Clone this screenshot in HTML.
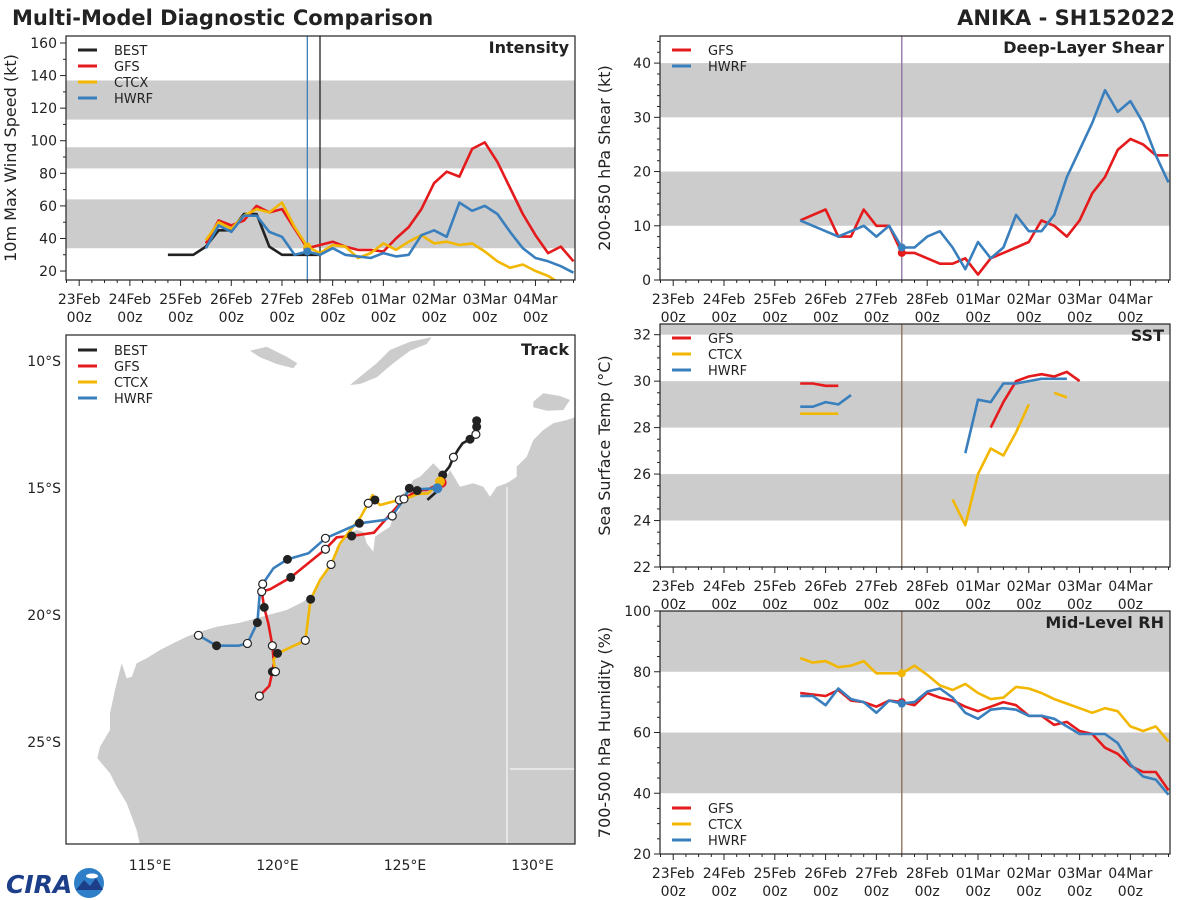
<!DOCTYPE html>
<html><head><meta charset="utf-8">
<style>
html,body{margin:0;padding:0;background:#fff;}
svg{display:block;font-family:"DejaVu Sans","Liberation Sans",sans-serif;}
</style></head>
<body>
<svg id="fig" width="1200" height="900" viewBox="0 0 1200 900" xmlns="http://www.w3.org/2000/svg">
<text x="12" y="25" font-size="21" font-weight="bold" fill="#222">Multi-Model Diagnostic Comparison</text>
<text x="1175" y="25" font-size="21" font-weight="bold" fill="#222" text-anchor="end">ANIKA - SH152022</text>
<g>
<text x="6" y="893" font-size="25" font-weight="bold" fill="#1d3f8a" font-style="italic">CIRA</text>
<circle cx="89" cy="883" r="15" fill="#2f7fc8"/>
<path d="M76 890 L84 880 L90 886 L96 878 L103 890 Z" fill="#1d3f8a"/>
<ellipse cx="92" cy="876" rx="6" ry="2.5" fill="#fff"/>
</g>
</svg>
<script>
// ---------- DATA ----------
const dayLabels = ["23Feb","24Feb","25Feb","26Feb","27Feb","28Feb","01Mar","02Mar","03Mar","04Mar"];
const bestHours = [42,48,54,60,66,72,78,84,90,96,102,108,114];
const bestVmax = [30,30,30,35,45,45,55,55,35,30,30,30,30];
const modelHours = [60,66,72,78,84,90,96,102,108,114,120,126,132,138,144,150,156,162,168,174,180,186,192,198,204,210,216,222,228,234];
const gfsVmax = [37,51,48,51,60,56,58,46,34,36,38,35,33,33,32,40,47,58,74,81,78,95,99,87,71,55,42,31,35,26];
const ctcxVmax = [39,50,46,54,58,56,62,47,35,31,36,35,28,31,37,33,38,42,37,38,36,37,32,26,22,24,20,17,12,null];
const hwrfVmax = [34,48,44,54,54,44,41,30,32,30,34,30,29,28,31,29,30,42,45,41,62,57,60,55,44,34,28,26,23,19];
const gfsShear = [11,12,13,8,8,13,10,10,5,5,4,3,3,4,1,4,5,6,7,11,10,8,11,16,19,24,26,25,23,23];
const hwrfShear = [11,10,9,8,9,10,8,10,6,6,8,9,6,2,7,4,6,12,9,9,12,19,24,29,35,31,33,29,23,18];
const gfsSst = [29.9,29.9,29.8,29.8,null,null,null,null,null,null,null,null,null,null,null,28.0,29.1,30.0,30.2,30.3,30.2,30.4,30.0,null,null,null,null,null,null,null];
const ctcxSst = [28.6,28.6,28.6,28.6,null,null,null,null,null,null,null,null,24.9,23.8,26.0,27.1,26.8,27.8,29.0,null,29.5,29.3,null,null,null,null,null,null,null,null];
const hwrfSst = [28.9,28.9,29.1,29.0,29.4,null,null,null,null,null,null,null,null,26.9,29.2,29.1,29.9,29.9,30.0,30.1,30.1,30.1,null,null,null,null,null,null,null,null];
const gfsRh = [73,72.5,72,74,70.5,70,68.5,70.5,70,69,73,71.5,70.5,68.5,67,68.5,70,69,65.5,65.5,62.5,63.5,60.5,59.5,55,53,49,47,47,41];
const ctcxRh = [84.5,83,83.5,81.5,82,83.5,79.5,79.5,79.5,82,79,75.5,74,76,73,71,71.5,75,74.5,73,71,69.5,68,66.5,68,67,62,60.5,62,57];
const hwrfRh = [72,72,69,74.5,71,70,66.5,70.5,69.5,70,73.5,74.5,71.5,66.5,64.5,67.5,68,67.5,65.5,65.5,64.5,62,59.5,59.5,59.5,56.5,49.5,45.5,44.5,39.5];
const bestLon = [125.88,126.24,126.48,126.74,126.90,127.09,127.26,127.55,127.78,127.81,127.81];
const bestLat = [-15.47,-15.14,-14.49,-14.16,-13.79,-13.48,-13.24,-13.08,-12.89,-12.59,-12.35];
const bestMk = ["","","f","","o","","","f","o","f","f"];
const gfsLon = [126.44,125.85,125.48,125.26,124.96,123.78,122.91,122.32,121.88,120.52,119.71,119.38,119.48,119.64,119.80,119.86,119.80,119.68,119.29];
const gfsLat = [-14.79,-15.08,-15.10,-15.24,-15.43,-16.76,-16.89,-16.94,-17.41,-18.52,-18.99,-19.08,-19.70,-20.33,-21.21,-21.90,-22.23,-22.79,-23.19];
const gfsMk = ["s","","f","","","","f","","o","f","","o","f","","o","","f","","o"];
const hwrfLon = [126.27,125.48,125.17,124.96,124.50,124.18,123.21,122.97,121.88,121.21,120.39,119.84,119.42,119.31,119.21,118.82,118.47,117.61,116.90];
const hwrfLat = [-15.01,-15.05,-15.01,-15.43,-16.10,-16.26,-16.39,-16.50,-16.98,-17.57,-17.81,-18.16,-18.78,-19.08,-20.30,-21.12,-21.21,-21.21,-20.80];
const hwrfMk = ["s","","f","o","o","","f","","o","","f","","o","","f","o","","f","o"];
const ctcxLon = [126.37,126.11,125.91,125.48,125.26,124.78,124.02,123.82,123.73,123.56,123.23,122.97,122.45,122.10,121.67,121.30,121.09,120.00,119.84,119.92];
const ctcxLat = [-14.75,-15.01,-15.21,-15.24,-15.34,-15.47,-15.67,-15.47,-15.28,-15.60,-16.19,-16.52,-17.18,-18.01,-18.62,-19.38,-21.00,-21.51,-21.77,-22.23];
const ctcxMk = ["s","","","","","o","","f","","o","","","","o","","f","o","f","","o"];

// ---------- HELPERS ----------
const NS="http://www.w3.org/2000/svg";
const svg=document.getElementById('fig');
function mk(tag,attrs,parent){const e=document.createElementNS(NS,tag);for(const k in attrs)e.setAttribute(k,attrs[k]);(parent||svg).appendChild(e);return e;}
const C={BEST:"#222222",GFS:"#e41a1c",CTCX:"#f2b701",HWRF:"#3a7fbd"};
const DMIN=-0.26,DMAX=9.78;

function panel(p){
  const g=mk('g',{});
  
  
  const xs=h=>p.x0+(h/24-DMIN)/(DMAX-DMIN)*(p.x1-p.x0);
  const ys=v=>p.y1-(v-p.ymin)/(p.ymax-p.ymin)*(p.y1-p.y0);
  const cid='clip-'+p.id;
  const cp=mk('clipPath',{id:cid},g);
  mk('rect',{x:p.x0,y:p.y0,width:p.x1-p.x0,height:p.y1-p.y0},cp);
  p.bands.forEach(b=>{
    const r=mk('rect',{x:p.x0,y:ys(Math.min(b[1],p.ymax)),width:p.x1-p.x0,height:ys(b[0])-ys(Math.min(b[1],p.ymax)),fill:"#cccccc"},g);
    
    
  });
  // y ticks
  for(let v=p.ymin0;v<=p.ymax+1e-6;v+=p.yminor){
    const major=Math.abs((v-p.ymin0)/p.ymajor-Math.round((v-p.ymin0)/p.ymajor))<1e-6;
    const t=mk('line',{x1:p.x0,x2:p.x0-(major?6:3),y1:ys(v),y2:ys(v),stroke:"#222","stroke-width":1},g);
    
    
    if(major){
      const tx=mk('text',{x:p.x0-9,y:ys(v)+5,"font-size":14,fill:"#222","text-anchor":"end"},g);
      tx.textContent=String(Math.round(v));
      
      
    }
  }
  // x ticks
  for(let h=-6;h<=240;h+=6){
    const x=xs(h); if(x<p.x0-0.5||x>p.x1+0.5) continue;
    const major=h%24===0;
    const t=mk('line',{x1:x,x2:x,y1:p.y1,y2:p.y1+(major?6:3),stroke:"#222","stroke-width":1},g);
    
    
  }
  dayLabels.forEach((lab,i)=>{
    const x=xs(i*24);
    const t1=mk('text',{x:x,y:p.y1+24,"font-size":14,fill:"#222","text-anchor":"middle"},g);
    t1.textContent=lab;
    
    
    const t2=mk('text',{x:x,y:p.y1+42,"font-size":14,fill:"#222","text-anchor":"middle"},g);
    t2.textContent="00z";
    
    
  });
  // vlines
  p.vlines.forEach(v=>{
    const l=mk('line',{x1:xs(v[0]),x2:xs(v[0]),y1:p.y0,y2:p.y1,stroke:v[1],"stroke-width":1.3},g);
    
    
  });
  // series
  const sg=mk('g',{"clip-path":"url(#"+cid+")"},g);
  p.series.forEach(s=>{
    let d="",pen=false;
    s.vals.forEach((v,i)=>{
      if(v===null){pen=false;return;}
      d+=(pen?"L":"M")+xs(s.hours[i]).toFixed(1)+" "+ys(v).toFixed(1);pen=true;
    });
    const pa=mk('path',{d:d,fill:"none",stroke:C[s.name],"stroke-width":2.6,"stroke-linejoin":"round"},sg);
    
    
    if(p.dotHour!==undefined && s.name!=="BEST"){
      const i=s.hours.indexOf(p.dotHour);
      if(i>=0 && s.vals[i]!==null){
        const c=mk('circle',{cx:xs(p.dotHour),cy:ys(s.vals[i]),r:4,fill:C[s.name]},sg);
        
        
      }
    }
  });
  const fr=mk('rect',{x:p.x0,y:p.y0,width:p.x1-p.x0,height:p.y1-p.y0,fill:"none",stroke:"#222","stroke-width":1.2},g);
  
  
  const tt=mk('text',{x:p.x1-6,y:p.y0+17,"font-size":16,"font-weight":"bold",fill:"#222","text-anchor":"end"},g);
  tt.textContent=p.title;
  
  
  const cy=(p.y0+p.y1)/2, lx=p.x0-50;
  const yl=mk('text',{x:lx,y:cy,"font-size":16,fill:"#222","text-anchor":"middle",transform:"rotate(-90 "+lx+" "+cy+")"},g);
  yl.textContent=p.ylabel;
  
  
  legend(g,p.x0,p.legendY,p.series.map(s=>s.name));
}
function legend(g,x0,y,names){
  const lg=mk('g',{},g);
  
  
  names.forEach((n,i)=>{
    const yy=y+i*16;
    const l=mk('line',{x1:x0+12,x2:x0+31,y1:yy,y2:yy,stroke:C[n],"stroke-width":3},lg);
    
    
    const t=mk('text',{x:x0+48,y:yy+5,"font-size":13,fill:"#222"},lg);
    t.textContent=n;
    
    
  });
}

panel({id:"intensity",x0:66,x1:575,y0:36,y1:280,ymin:14.5,ymax:164.3,ymin0:20,ymajor:20,yminor:10,
  bands:[[34,64],[83,96],[113,137]],title:"Intensity",ylabel:"10m Max Wind Speed (kt)",legendY:50,
  vlines:[[108,"#3a7fbd"],[114,"#222"]],dotHour:108,
  series:[{name:"BEST",hours:bestHours,vals:bestVmax},{name:"GFS",hours:modelHours,vals:gfsVmax},{name:"CTCX",hours:modelHours,vals:ctcxVmax},{name:"HWRF",hours:modelHours,vals:hwrfVmax}]});
panel({id:"shear",x0:660,x1:1170,y0:36,y1:280,ymin:0,ymax:45,ymin0:0,ymajor:10,yminor:2,
  bands:[[10,20],[30,40]],title:"Deep-Layer Shear",ylabel:"200-850 hPa Shear (kt)",legendY:50,
  vlines:[[108,"#8a6fa0"]],dotHour:108,
  series:[{name:"GFS",hours:modelHours,vals:gfsShear},{name:"HWRF",hours:modelHours,vals:hwrfShear}]});
panel({id:"sst",x0:660,x1:1170,y0:324,y1:567,ymin:22,ymax:32.46,ymin0:22,ymajor:2,yminor:0.5,
  bands:[[24,26],[28,30],[32,33]],title:"SST",ylabel:"Sea Surface Temp (°C)",legendY:338,
  vlines:[[108,"#8a6a55"]],
  series:[{name:"GFS",hours:modelHours,vals:gfsSst},{name:"CTCX",hours:modelHours,vals:ctcxSst},{name:"HWRF",hours:modelHours,vals:hwrfSst}]});
panel({id:"rh",x0:660,x1:1170,y0:611,y1:854,ymin:20,ymax:100,ymin0:20,ymajor:20,yminor:5,
  bands:[[40,60],[80,100]],title:"Mid-Level RH",ylabel:"700-500 hPa Humidity (%)",legendY:808,
  vlines:[[108,"#8a6a55"]],dotHour:108,
  series:[{name:"GFS",hours:modelHours,vals:gfsRh},{name:"CTCX",hours:modelHours,vals:ctcxRh},{name:"HWRF",hours:modelHours,vals:hwrfRh}]});

// ---------- TRACK MAP ----------
(function(){
  const X0=66,X1=575,Y0=335,Y1=844;
  const lx=lon=>150+(lon-115)*25.5;
  const ly=lat=>361+(-10-lat)*25.4;
  const g=mk('g',{});
  
  
  const cp=mk('clipPath',{id:'clip-track'},g);
  mk('rect',{x:X0,y:Y0,width:X1-X0,height:Y1-Y0},cp);
  const mg=mk('g',{"clip-path":"url(#clip-track)"},g);
  const zp=pts=>pts.map((p,i)=>(i?"L":"M")+(60+p[0]/3).toFixed(1)+" "+(330+p[1]/3).toFixed(1)).join("")+"Z";
  const aus=[[240,1545],[230,1500],[200,1420],[170,1370],[150,1330],[112,1285],[120,1250],[150,1200],[150,1150],[165,1080],[175,1040],[185,1000],[200,1045],[215,1040],[230,1000],[260,985],[300,960],[340,940],[380,920],[420,905],[470,890],[540,878],[600,862],[680,840],[730,815],[760,790],[780,760],[800,720],[820,690],[830,650],[860,615],[890,600],[910,605],[920,640],[940,665],[945,620],[960,610],[990,590],[1000,560],[1020,540],[1010,510],[1040,480],[1060,450],[1080,440],[1100,420],[1120,400],[1140,420],[1160,440],[1170,420],[1200,470],[1240,460],[1270,470],[1290,500],[1310,470],[1340,460],[1370,440],[1370,410],[1400,380],[1420,330],[1450,300],[1480,280],[1520,270],[1550,260],[1550,1545]];
  const timor=[[870,165],[900,140],[950,100],[990,60],[1050,35],[1115,22],[1100,42],[1050,62],[1000,100],[950,142],[900,162]];
  const sumba=[[570,62],[620,50],[680,80],[712,100],[700,115],[650,102],[600,82]];
  const tiwi=[[1420,215],[1450,190],[1500,198],[1530,210],[1510,240],[1460,242],[1420,232]];
  [[aus,'australia-land'],[timor,'timor-island'],[sumba,'sumba-island'],[tiwi,'tiwi-islands']].forEach(a=>{
    const p=mk('path',{d:zp(a[0]),fill:"#cccccc"},mg);
    
    
  });
  const b1=mk('line',{x1:lx(129),x2:lx(129),y1:487,y2:844,stroke:"#fff","stroke-width":1},mg);
  
  
  const b2=mk('line',{x1:lx(129)+3,x2:X1,y1:769,y2:769,stroke:"#fff","stroke-width":1},mg);
  
  
  const tracks=[["BEST",bestLon,bestLat,bestMk],["GFS",gfsLon,gfsLat,gfsMk],["CTCX",ctcxLon,ctcxLat,ctcxMk],["HWRF",hwrfLon,hwrfLat,hwrfMk]];
  tracks.forEach(t=>{
    const d=t[1].map((lon,i)=>(i?"L":"M")+lx(lon).toFixed(1)+" "+ly(t[2][i]).toFixed(1)).join("");
    const pa=mk('path',{d:d,fill:"none",stroke:C[t[0]],"stroke-width":2.6,"stroke-linejoin":"round"},mg);
    
    
  });
  tracks.forEach(t=>{
    t[3].forEach((m,i)=>{
      if(!m) return;
      const cx=lx(t[1][i]),cy=ly(t[2][i]);
      let c;
      if(m==="s") c=mk('circle',{cx:cx,cy:cy,r:5,fill:C[t[0]]},mg);
      else if(m==="f") c=mk('circle',{cx:cx,cy:cy,r:4.5,fill:"#222"},mg);
      else c=mk('circle',{cx:cx,cy:cy,r:4,fill:"#fff",stroke:"#222","stroke-width":1.2},mg);
      
      
    });
  });
  const fr=mk('rect',{x:X0,y:Y0,width:X1-X0,height:Y1-Y0,fill:"none",stroke:"#222","stroke-width":1.2},g);
  
  
  const tt=mk('text',{x:X1-6,y:Y0+20,"font-size":16,"font-weight":"bold",fill:"#222","text-anchor":"end"},g);
  tt.textContent="Track";
  
  
  [115,120,125,130].forEach(lon=>{
    const t=mk('text',{x:lx(lon),y:870,"font-size":14,fill:"#222","text-anchor":"middle"},g);
    t.textContent=lon+"°E";
    
    
  });
  [10,15,20,25].forEach(lat=>{
    const t=mk('text',{x:61,y:ly(-lat)+5,"font-size":14,fill:"#222","text-anchor":"end"},g);
    t.textContent=lat+"°S";
    
    
  });
  legend(g,X0,350,["BEST","GFS","CTCX","HWRF"]);
})();
</script>
</body></html>
